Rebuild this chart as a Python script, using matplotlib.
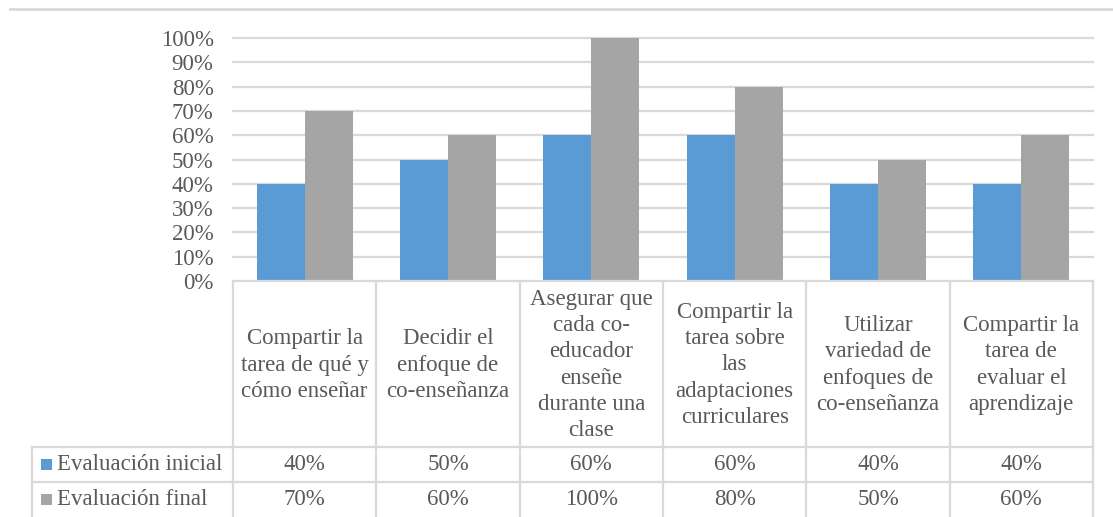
import matplotlib
matplotlib.use("Agg")
import matplotlib.pyplot as plt
import numpy as np

categories = [
    "Compartir la\ntarea de qué y\ncómo enseñar",
    "Decidir el\nenfoque de\nco-enseñanza",
    "Asegurar que\ncada co-\neducador\nenseñe\ndurante una\nclase",
    "Compartir la\ntarea sobre\nlas\nadaptaciones\ncurriculares",
    "Utilizar\nvariedad de\nenfoques de\nco-enseñanza",
    "Compartir la\ntarea de\nevaluar el\naprendizaje",
]
series_names = ["Evaluación inicial", "Evaluación final"]
inicial = [0.40, 0.50, 0.60, 0.60, 0.40, 0.40]
final = [0.70, 0.60, 1.00, 0.80, 0.50, 0.60]
yticks = [0, 0.1, 0.2, 0.3, 0.4, 0.5, 0.6, 0.7, 0.8, 0.9, 1.0]

colors = ["#5B9BD5", "#A5A5A5"]
text_color = "#595959"
line_color = "#D9D9D9"
FONT = "Liberation Serif"
FS = 16.5

W, H = 1113, 517
fig = plt.figure(figsize=(W / 100, H / 100), dpi=100)

# pixel geometry
ax_left, ax_right = 233, 1093
ax_top, ax_bottom = 38, 281
row1_top, row2_top, tbl_bottom = 447, 482, 517
leg_left = 32

ax = fig.add_axes([ax_left / W, (H - ax_bottom) / H,
                   (ax_right - ax_left) / W, (ax_bottom - ax_top) / H])
n = len(categories)
x = np.arange(n)
bw = 0.335
ax.bar(x - bw / 2, inicial, bw, color=colors[0], zorder=3)
ax.bar(x + bw / 2, final, bw, color=colors[1], zorder=3)
ax.set_xlim(-0.5, n - 0.5)
ax.set_ylim(0, 1.0)
ax.set_yticks(yticks)
ax.set_yticklabels([f"{int(round(v * 100))}%" for v in yticks],
                   fontfamily=FONT, fontsize=FS, color=text_color)
ax.tick_params(axis="y", length=0, pad=14)
ax.set_xticks([])
for s in ax.spines.values():
    s.set_visible(False)
for v in yticks[1:]:
    ax.axhline(v, color=line_color, lw=1.6, zorder=1, clip_on=False)

# overlay in pixel coordinates for the data table
ov = fig.add_axes([0, 0, 1, 1])
ov.set_xlim(0, W)
ov.set_ylim(H, 0)
ov.axis("off")
ov.patch.set_alpha(0)

lw = 1.6
colw = (ax_right - ax_left) / n
edges = [ax_left + i * colw for i in range(n + 1)]
# horizontal lines
ov.plot([ax_left, ax_right], [ax_bottom, ax_bottom], color=line_color, lw=lw)
ov.plot([leg_left, ax_right], [row1_top, row1_top], color=line_color, lw=lw)
ov.plot([leg_left, ax_right], [row2_top, row2_top], color=line_color, lw=lw)
# vertical lines
for e in edges:
    ov.plot([e, e], [ax_bottom, tbl_bottom], color=line_color, lw=lw)
ov.plot([leg_left, leg_left], [row1_top, tbl_bottom], color=line_color, lw=lw)
# top border line
ov.plot([10, W], [9, 9], color=line_color, lw=2)

# category labels
for i, c in enumerate(categories):
    cx = (edges[i] + edges[i + 1]) / 2
    ov.text(cx, (ax_bottom + row1_top) / 2 + 1, c, ha="center", va="center",
            fontfamily=FONT, fontsize=FS, color=text_color, linespacing=1.33)

# data rows
rows = [inicial, final]
row_tops = [row1_top, row2_top]
row_h = row2_top - row1_top
for r, (vals, top) in enumerate(zip(rows, row_tops)):
    cy = top + row_h / 2
    ov.add_patch(plt.Rectangle((41, cy - 5.5), 11, 11, color=colors[r], lw=0))
    ov.text(57, cy, series_names[r], ha="left", va="center",
            fontfamily=FONT, fontsize=FS, color=text_color)
    for i, v in enumerate(vals):
        cx = (edges[i] + edges[i + 1]) / 2
        ov.text(cx, cy, f"{int(round(v * 100))}%", ha="center", va="center",
                fontfamily=FONT, fontsize=FS, color=text_color)

fig.savefig("out.png", dpi=100)
